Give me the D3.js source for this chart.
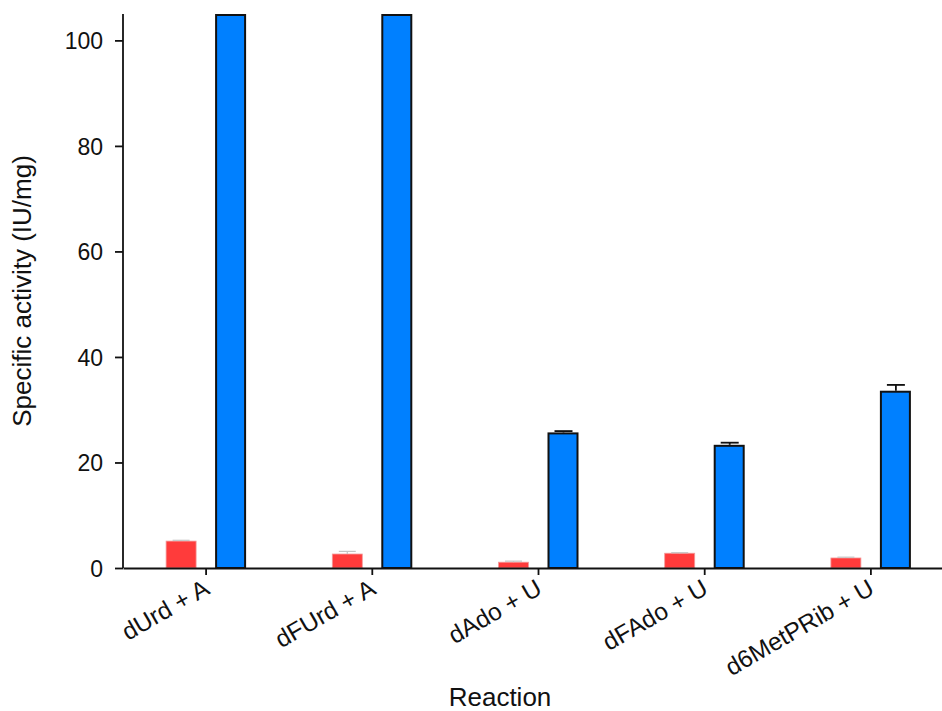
<!DOCTYPE html>
<html>
<head>
<meta charset="utf-8">
<script src="https://cdn.jsdelivr.net/npm/d3@7"></script>
<style>
  body { margin: 0; background: #fff; }
  text { font-family: "Liberation Sans", Arial, sans-serif; fill: #111; }
</style>
</head>
<body>
<svg id="chart" width="942" height="711"></svg>
<script>
// reactions on the x axis
var reactions = ["dUrd + A", "dFUrd + A", "dAdo + U", "dFAdo + U", "d6MetPRib + U"];
// red series (left bar of each pair)
var redValues = [5.1, 2.65, 1.1, 2.8, 1.9];
var redErrors = [0.15, 0.5, 0.2, 0.1, 0.15];
// blue series (right bar), first two go off the top of the axis
var blueValues = [110, 110, 25.7, 23.35, 33.6];
var blueErrors = [0, 0, 0.25, 0.4, 1.1];
var yTicks = [0, 20, 40, 60, 80, 100];

var svg = d3.select("#chart"),
  width = +svg.attr("width"),
  height = +svg.attr("height");

var margin = {top: 14, right: -12, bottom: 143, left: 123};

var x = d3.scaleBand()
  .domain(reactions)
  .range([margin.left, width - margin.right]);

var y = d3.scaleLinear()
  .domain([0, 105])
  .range([height - margin.bottom, margin.top]);

var barW = 30, offset = 25;

// bars are cut at the top of the axis
function barTop(v) { return y(Math.min(v, 105)); }
function cx(i, side) { return x(reactions[i]) + x.bandwidth() / 2 + side * offset; }

// red bars
svg.append("g")
  .selectAll("rect")
  .data(redValues)
  .enter().append("rect")
  .attr("x", function(d, i) { return cx(i, -1) - barW / 2; })
  .attr("y", function(d) { return barTop(d); })
  .attr("width", barW)
  .attr("height", function(d) { return y(0) - barTop(d); })
  .attr("fill", "#ff3b3b")
  .attr("stroke", "#f39a9a")
  .attr("stroke-width", 0.8);

// red error bars (light grey)
var redErr = svg.append("g")
  .selectAll("g")
  .data(redValues)
  .enter().append("g")
  .attr("stroke", "#c4c4c4")
  .attr("stroke-width", 1.2);
redErr.append("line")
  .attr("x1", function(d, i) { return cx(i, -1); })
  .attr("x2", function(d, i) { return cx(i, -1); })
  .attr("y1", function(d) { return y(d); })
  .attr("y2", function(d, i) { return y(d + redErrors[i]); });
redErr.append("line")
  .attr("x1", function(d, i) { return cx(i, -1) - 8.5; })
  .attr("x2", function(d, i) { return cx(i, -1) + 8.5; })
  .attr("y1", function(d, i) { return y(d + redErrors[i]); })
  .attr("y2", function(d, i) { return y(d + redErrors[i]); });

// blue error bars (black), only where the bar is on the axis
var blueIdx = d3.range(blueValues.length).filter(function(i) { return blueErrors[i] > 0; });
var blueErr = svg.append("g")
  .selectAll("g")
  .data(blueIdx)
  .enter().append("g")
  .attr("stroke", "#111")
  .attr("stroke-width", 1.8);
blueErr.append("line")
  .attr("x1", function(i) { return cx(i, 1); })
  .attr("x2", function(i) { return cx(i, 1); })
  .attr("y1", function(i) { return y(blueValues[i]); })
  .attr("y2", function(i) { return y(blueValues[i] + blueErrors[i]); });
blueErr.append("line")
  .attr("x1", function(i) { return cx(i, 1) - 9; })
  .attr("x2", function(i) { return cx(i, 1) + 9; })
  .attr("y1", function(i) { return y(blueValues[i] + blueErrors[i]); })
  .attr("y2", function(i) { return y(blueValues[i] + blueErrors[i]); });

// blue bars
svg.append("g")
  .selectAll("rect")
  .data(blueValues)
  .enter().append("rect")
  .attr("x", function(d, i) { return cx(i, 1) - barW / 2; })
  .attr("y", function(d) { return barTop(d) + 1; })
  .attr("width", barW - 1)
  .attr("height", function(d) { return y(0) - barTop(d) - 1; })
  .attr("fill", "#0080ff")
  .attr("stroke", "#111")
  .attr("stroke-width", 2);

// y axis
var yAxis = svg.append("g")
  .attr("transform", "translate(" + margin.left + ",0)")
  .call(d3.axisLeft(y).tickValues(yTicks).tickSize(8).tickPadding(12));
yAxis.select(".domain").attr("d", "M0," + y(105) + "V" + y(0)).attr("stroke", "#111").attr("stroke-width", 1.8);
yAxis.selectAll(".tick line").attr("stroke", "#111").attr("stroke-width", 1.8);
yAxis.selectAll(".tick text").attr("font-size", 23).attr("dy", "0.36em");

// x axis
var xAxis = svg.append("g")
  .attr("transform", "translate(0," + y(0) + ")")
  .call(d3.axisBottom(x).tickSize(7).tickSizeOuter(0));
xAxis.select(".domain").attr("stroke", "#111").attr("stroke-width", 1.8);
xAxis.selectAll(".tick line").attr("stroke", "#111").attr("stroke-width", 1.8);
xAxis.selectAll(".tick text")
  .attr("font-size", 24.5)
  .attr("text-anchor", "end")
  .attr("x", 0)
  .attr("y", 0)
  .attr("dy", 0)
  .attr("transform", "translate(5,25) rotate(-30)");

// axis titles
svg.append("text")
  .attr("x", 500)
  .attr("y", 706)
  .attr("text-anchor", "middle")
  .attr("font-size", 26)
  .text("Reaction");

svg.append("text")
  .attr("transform", "translate(31," + (y(0) + y(105)) / 2 + ") rotate(-90)")
  .attr("text-anchor", "middle")
  .attr("font-size", 26)
  .text("Specific activity (IU/mg)");
</script>
</body>
</html>
